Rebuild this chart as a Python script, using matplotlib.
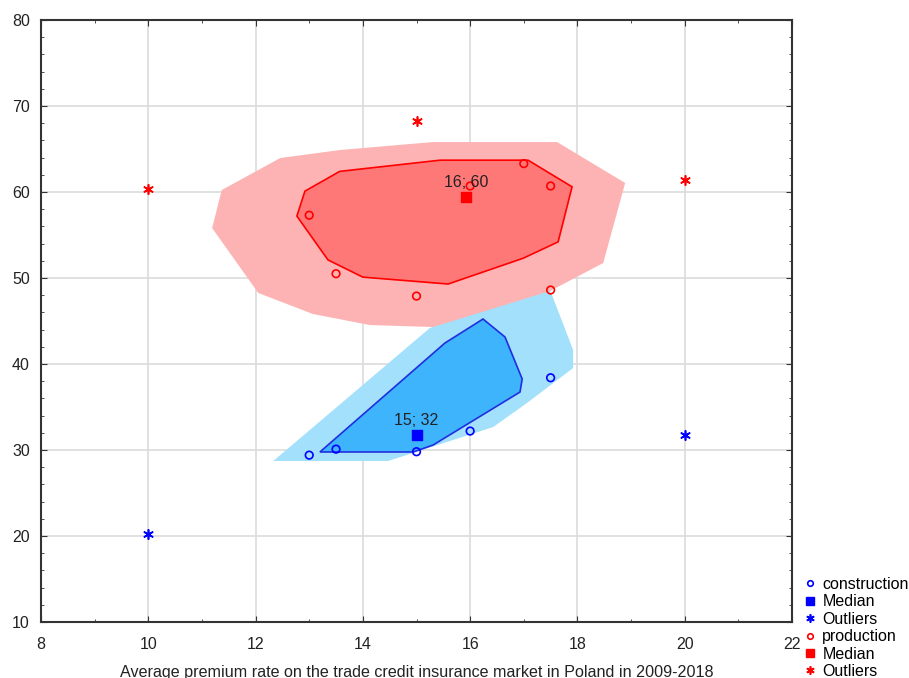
import matplotlib
matplotlib.use("Agg")
import matplotlib.pyplot as plt
from matplotlib.patches import Polygon
from matplotlib.lines import Line2D
from matplotlib.ticker import MultipleLocator

plt.rcParams['font.family'] = ['Liberation Sans', 'DejaVu Sans']

# construction
con_x = [13.0, 13.5, 15.0, 16.0, 17.5]
con_y = [29.4, 30.1, 29.8, 32.2, 38.4]
con_out_x = [10.0, 20.0]
con_out_y = [20.2, 31.7]
con_med = (15.0, 31.7)
con_med_label = "15; 32"
con_bag = [(13.20, 29.77), (14.94, 29.77), (15.31, 30.58), (16.93, 36.74),
           (16.97, 38.26), (16.65, 43.14), (16.24, 45.23), (15.53, 42.44)]
con_fence = [(12.33, 28.72), (14.47, 28.72), (16.43, 32.67), (17.06, 35.47),
             (17.92, 39.53), (17.92, 41.63), (17.49, 48.60), (16.37, 46.63),
             (15.25, 44.19)]

# production
pro_x = [13.0, 13.5, 15.0, 16.0, 17.0, 17.5, 17.5]
pro_y = [57.3, 50.5, 47.9, 60.7, 63.3, 60.7, 48.6]
pro_out_x = [10.0, 15.0, 20.0]
pro_out_y = [60.4, 68.3, 61.4]
pro_med = (15.92, 59.4)
pro_med_label = "16; 60"
pro_bag = [(12.77, 57.2), (12.92, 60.1), (13.57, 62.4), (15.44, 63.7),
           (17.08, 63.7), (17.90, 60.6), (17.64, 54.2), (16.99, 52.3),
           (15.59, 49.3), (14.00, 50.1), (13.35, 52.1)]
pro_fence = [(11.19, 55.81), (11.37, 60.23), (12.46, 63.95), (13.57, 64.88),
             (15.31, 65.81), (17.62, 65.81), (18.89, 61.05), (18.48, 51.74),
             (17.49, 48.49), (15.31, 44.30), (14.13, 44.53), (13.07, 45.81),
             (12.05, 48.26)]

xlabel = "Average premium rate on the trade credit insurance market in Poland in 2009-2018"

fig = plt.figure(figsize=(9.09, 6.78), dpi=100)
ax = fig.add_axes([0.0451, 0.0826, 0.8262, 0.8879])

# fences and bags
ax.add_patch(Polygon(con_fence, closed=True, facecolor='#a3e0fb', edgecolor='none', zorder=2))
ax.add_patch(Polygon(pro_fence, closed=True, facecolor='#fdb3b3', edgecolor='none', zorder=2))
ax.add_patch(Polygon(con_bag, closed=True, facecolor='#3db4fc', edgecolor='#1f2fe0', lw=1.2, zorder=3))
ax.add_patch(Polygon(pro_bag, closed=True, facecolor='#ff7878', edgecolor='#ff0000', lw=1.2, zorder=3))

star = (6, 2, 0)
ax.scatter(con_x, con_y, s=30, facecolors='none', edgecolors='#0000ff', linewidths=1.2, zorder=4)
ax.scatter(pro_x, pro_y, s=30, facecolors='none', edgecolors='#ff0000', linewidths=1.2, zorder=4)
ax.scatter(con_out_x, con_out_y, s=45, marker=star, color='#0000ff', linewidths=1.2, zorder=4)
ax.scatter(pro_out_x, pro_out_y, s=45, marker=star, color='#ff0000', linewidths=1.2, zorder=4)
ax.scatter([con_med[0]], [con_med[1]], s=55, marker='s', color='#0000ff', zorder=5)
ax.scatter([pro_med[0]], [pro_med[1]], s=55, marker='s', color='#ff0000', zorder=5)
ax.annotate(con_med_label, con_med, xytext=(0, 5), textcoords='offset points',
            ha='center', va='bottom', fontsize=11.5, color='#222222', zorder=6)
ax.annotate(pro_med_label, pro_med, xytext=(0, 5), textcoords='offset points',
            ha='center', va='bottom', fontsize=11.5, color='#222222', zorder=6)

ax.set_xlim(8, 22)
ax.set_ylim(10, 80)
ax.xaxis.set_major_locator(MultipleLocator(2))
ax.xaxis.set_minor_locator(MultipleLocator(1))
ax.yaxis.set_major_locator(MultipleLocator(10))
ax.yaxis.set_minor_locator(MultipleLocator(2))
ax.tick_params(which='both', direction='in', top=True, right=True, color='#333333')
ax.tick_params(which='major', length=4, labelsize=11.5, labelcolor='#222222')
ax.tick_params(axis='x', which='major', pad=11)
ax.tick_params(axis='y', which='major', pad=8)
ax.tick_params(which='minor', length=2)
ax.grid(True, which='major', color='#dcdcdc', lw=1.2, zorder=0)
ax.set_axisbelow(True)
for sp in ax.spines.values():
    sp.set_color('#333333')
    sp.set_linewidth(1.5)
ax.set_xlabel(xlabel, fontsize=11.6, color='#222222', labelpad=9)

handles = [
    Line2D([], [], ls='none', marker='o', mfc='none', mec='#0000ff', ms=4, mew=1.2),
    Line2D([], [], ls='none', marker='s', color='#0000ff', ms=6),
    Line2D([], [], ls='none', marker=star, color='#0000ff', ms=6, mew=1.2),
    Line2D([], [], ls='none', marker='o', mfc='none', mec='#ff0000', ms=4, mew=1.2),
    Line2D([], [], ls='none', marker='s', color='#ff0000', ms=6),
    Line2D([], [], ls='none', marker=star, color='#ff0000', ms=6, mew=1.2),
]
labels = ["construction", "Median", "Outliers", "production", "Median", "Outliers"]
fig.legend(handles, labels, loc='lower left', bbox_to_anchor=(0.873, -0.018),
           frameon=False, fontsize=11.5, handlelength=0.6, handletextpad=0.5,
           labelspacing=0.15, borderaxespad=0.3)

fig.savefig("out.png", dpi=100)
